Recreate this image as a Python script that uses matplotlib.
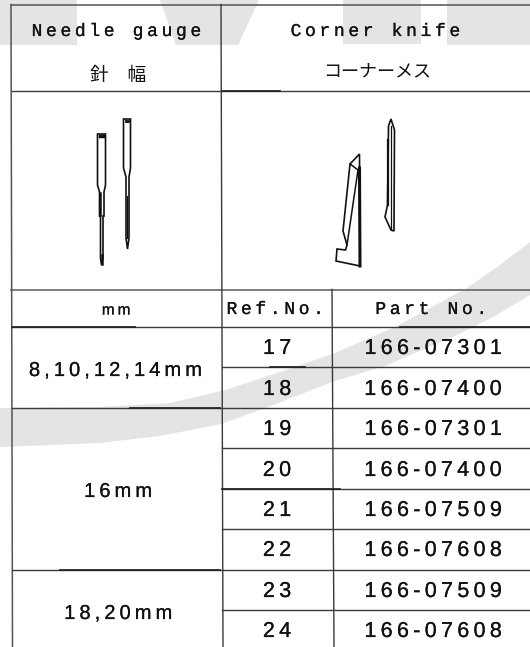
import matplotlib
matplotlib.use('Agg')
import matplotlib.pyplot as plt
import matplotlib.patheffects as pe
from matplotlib.patches import Polygon

ref_nos = ['17', '18', '19', '20', '21', '22', '23', '24']
part_nos = ['166-07301', '166-07400', '166-07301', '166-07400',
            '166-07509', '166-07608', '166-07509', '166-07608']
gauges = ['8,10,12,14mm', '16mm', '18,20mm']
row_lines = [326.5, 367, 407.5, 447.5, 488.5, 528.5, 570, 610]
row_mid = [347, 388, 428, 469, 509, 549, 590, 630]
gauge_mid = [369, 490, 612]

LINE = '#3a3a3a'
INK = '#111111'
GREY = '#e4e4e4'
LATIN = ['Liberation Sans', 'DejaVu Sans']
MONO = ['Liberation Mono', 'DejaVu Sans']
THIN = '\u2009'
HEAVIER = [pe.withStroke(linewidth=0.15, foreground=INK)]


def spaced(s):
    # the scan has wide, typewriter style letter spacing
    return THIN.join(s)


def label(x, y, s, size=15, family=LATIN):
    ax.text(x, y + 1.5, spaced(s), ha='center', va='center', fontsize=size,
            family=family, color=INK, zorder=5, path_effects=HEAVIER)


def outline(pts, lw=1.2, fill='none'):
    ax.add_patch(Polygon(pts, closed=True, fc=fill, ec=INK, lw=lw, zorder=4))


fig = plt.figure(figsize=(5.3, 6.47), dpi=100)
ax = fig.add_axes([0, 0, 1, 1])
ax.set_xlim(0, 530)
ax.set_ylim(647, 0)
ax.axis('off')

# watermark showing through the scan
wm_shapes = [
    [(0, 0), (77, 0), (77, 45), (0, 45)],
    [(160, 0), (259, 0), (238, 45), (176, 45)],
    [(343, 0), (421, 0), (421, 44), (343, 44)],
    [(447, 0), (530, 0), (530, 45), (447, 45)],
    [(0, 408), (100, 407), (170, 403), (225, 390), (280, 372), (335, 353),
     (397, 326), (467, 288), (500, 265), (530, 242),
     (530, 295), (495, 316), (457, 335), (385, 366), (335, 381), (268, 407),
     (221, 424), (160, 436), (100, 443), (0, 447)],
]
for pts in wm_shapes:
    ax.add_patch(Polygon(pts, closed=True, fc=GREY, ec='none', zorder=1))

# table rules
ax.plot([11, 530], [4.5, 4.5], color='#555555', lw=1.1, zorder=3)
ax.plot([11, 530], [90.5, 90.5], color=LINE, lw=1.0, zorder=3)
ax.plot([11, 530], [289.5, 289.5], color='#666666', lw=1.2, zorder=3)
ax.plot([11, 12.5], [4.5, 647], color='#555555', lw=1.1, zorder=3)
ax.plot([221, 223], [4.5, 647], color=LINE, lw=1.0, zorder=3)
ax.plot([332, 334], [289.5, 647], color=LINE, lw=1.0, zorder=3)
for i, y in enumerate(row_lines):
    x0 = 12 if i in (0, 2, 6) else 222
    ax.plot([x0, 530], [y, y], color=LINE, lw=1.0, zorder=3)

# darker stretches of the scanned rules
heavy = [(222, 280, 90.5), (12, 135, 326.5), (400, 530, 326.5), (270, 305, 367),
         (130, 220, 407.5), (222, 340, 488.5), (60, 220, 570)]
for x0, x1, y in heavy:
    ax.plot([x0, x1], [y, y], color='#222222', lw=1.25, zorder=3)

# headers
label(116, 30, 'Needle gauge', 13, MONO)
label(375, 30, 'Corner knife', 13, MONO)
ax.text(118, 75, '針\u3000幅', ha='center', va='center', fontsize=13.5,
        family='Noto Sans CJK JP', color=INK, zorder=5)
ax.text(377, 71, 'コーナーメス', ha='center', va='center', fontsize=13,
        family='Noto Sans CJK JP', color=INK, zorder=5)
label(116, 309, 'mm', 11)
label(275, 308, 'Ref.No.', 13, MONO)
label(431, 308, 'Part No.', 13, MONO)

# body
for y, r, p in zip(row_mid, ref_nos, part_nos):
    label(277, y, r, 15.5)
    label(433, y, p, 15.5)
for y, g, x in zip(gauge_mid, gauges, [115, 118, 118]):
    label(x, y, g, 14.5)

# needles
outline([(97.5, 134), (105.5, 134), (105.5, 185), (104, 192), (104, 216),
         (103, 216), (103, 258), (101.5, 265), (100.5, 258), (100.5, 216),
         (99.5, 216), (99.5, 192), (97.5, 185)])
ax.plot([100, 103], [136, 136], color=INK, lw=2.5, zorder=4)
ax.plot([100, 100], [193, 215], color=INK, lw=1.8, zorder=4)
ax.plot([101.5, 101.5], [255, 264], color=INK, lw=1.8, zorder=4)
outline([(123.5, 119), (130.5, 119), (130.5, 168), (129, 177), (129, 238),
         (127.5, 249), (126, 238), (126, 177), (123.5, 168)])
ax.plot([126, 128], [121, 121], color=INK, lw=2, zorder=4)
ax.plot([127, 127], [196, 238], color=INK, lw=0.8, zorder=4)

# corner knives
outline([(359.5, 154), (350, 164), (343, 231), (347, 245), (345.5, 250), (337, 249),
         (336, 261), (360, 266)])
ax.plot([350, 358, 347], [164, 170, 245], color=INK, lw=1.1, zorder=4)
ax.plot([359.5, 360], [168, 266], color=INK, lw=2.2, zorder=4)
outline([(391, 119), (388.5, 126), (387.5, 205), (385, 217), (391, 230), (394, 231),
         (394.5, 130)])
ax.plot([390.5, 390.5], [126, 229], color=INK, lw=0.9, zorder=4)
ax.plot([388, 388], [140, 205], color=INK, lw=1.6, zorder=4)

fig.savefig('out.png', dpi=100, facecolor='white')
